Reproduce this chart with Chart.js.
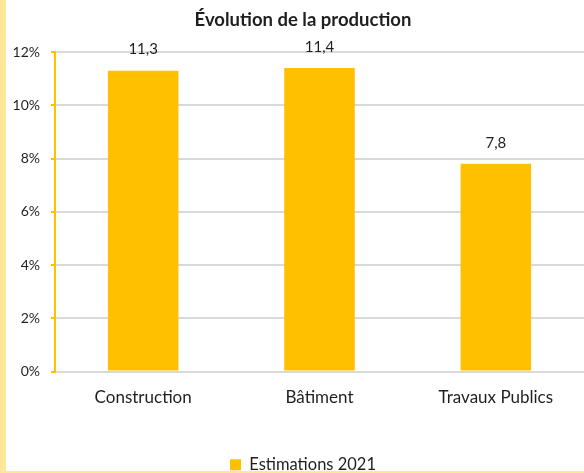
<!DOCTYPE html>
<html>
<head>
<meta charset="utf-8">
<script src="https://cdn.jsdelivr.net/npm/chart.js@4/dist/chart.umd.min.js"></script>
<style>
  html, body { margin: 0; padding: 0; background: #fff; overflow: hidden; width: 584px; height: 473px; }
  #wrap { position: absolute; left: 0; top: 0; width: 584px; height: 473px; overflow: hidden; }
  #c { position: absolute; left: 0; top: 0; }
  .bl { position: absolute; left: 0; top: 0; width: 6px; height: 473px; background: #FFE699; }
  .bb { position: absolute; left: 0; top: 471px; width: 584px; height: 2px; background: #FFE699; }
</style>
</head>
<body>
<div id="wrap">
  <canvas id="c" width="584" height="483"></canvas>
  <div class="bl"></div>
  <div class="bb"></div>
</div>
<script>
const categories = ["Construction", "Bâtiment", "Travaux Publics"];
const seriesName = "Estimations 2021";
const values = [11.3, 11.4, 7.8];
const yTickMax = 12;
const yTickStep = 2;
const chartTitle = "Évolution de la production";

const FONT = "Lato, 'Liberation Sans', sans-serif";
const TXT = "#1f1f1f";

const dataLabels = {
  id: "dataLabels",
  afterDatasetsDraw(chart) {
    const ctx = chart.ctx;
    const meta = chart.getDatasetMeta(0);
    ctx.save();
    ctx.font = "15px " + FONT;
    ctx.fillStyle = TXT;
    ctx.textAlign = "center";
    ctx.textBaseline = "middle";
    meta.data.forEach((bar, i) => {
      const v = chart.data.datasets[0].data[i];
      ctx.fillText(v.toFixed(1).replace(".", ","), bar.x, bar.y - 21);
    });
    ctx.restore();
  }
};

// center title and legend on the original frame (shifted right like the source)
const shiftBlocks = {
  id: "shiftBlocks",
  afterLayout(chart) {
    if (chart.legend) { chart.legend.left = 22; chart.legend.width = chart.legend.right - 22; }
    if (chart.titleBlock) { chart.titleBlock.left = 22; chart.titleBlock.width = chart.titleBlock.right - 22; }
  }
};

new Chart(document.getElementById("c"), {
  type: "bar",
  data: {
    labels: categories,
    datasets: [{
      label: seriesName,
      data: values,
      backgroundColor: "#FFC000",
      borderWidth: 0,
      categoryPercentage: 1,
      barPercentage: 0.4
    }]
  },
  options: {
    responsive: false,
    animation: false,
    devicePixelRatio: 1,
    layout: { padding: { left: 0, right: 0, top: 0, bottom: 0 } },
    plugins: {
      title: {
        display: true,
        text: chartTitle,
        color: TXT,
        font: { family: FONT, size: 18.5, weight: "bold", lineHeight: 1.2 },
        padding: { top: 9, bottom: 20.8 }
      },
      legend: {
        display: true,
        position: "bottom",
        labels: {
          color: TXT,
          font: { family: FONT, size: 16.5 },
          boxWidth: 11,
          boxHeight: 11,
          padding: 10
        }
      },
      tooltip: { enabled: false }
    },
    scales: {
      x: {
        grid: { display: false, drawTicks: false },
        border: { display: false },
        ticks: { color: TXT, font: { family: FONT, size: 17 }, padding: 16 },
        afterFit(s) { s.height = 75; }
      },
      y: {
        min: 0,
        max: yTickMax,
        ticks: {
          stepSize: yTickStep,
          color: TXT,
          font: { family: FONT, size: 14 },
          padding: 11,
          callback: v => v + "%"
        },
        grid: { color: "#D9D9D9", lineWidth: 2, tickColor: "#FFC000", tickLength: 4, drawTicks: true },
        border: { display: true, color: "#FFC000", width: 2 },
        afterFit(s) { s.width = 55; }
      }
    }
  },
  plugins: [dataLabels, shiftBlocks]
});
</script>
</body>
</html>
